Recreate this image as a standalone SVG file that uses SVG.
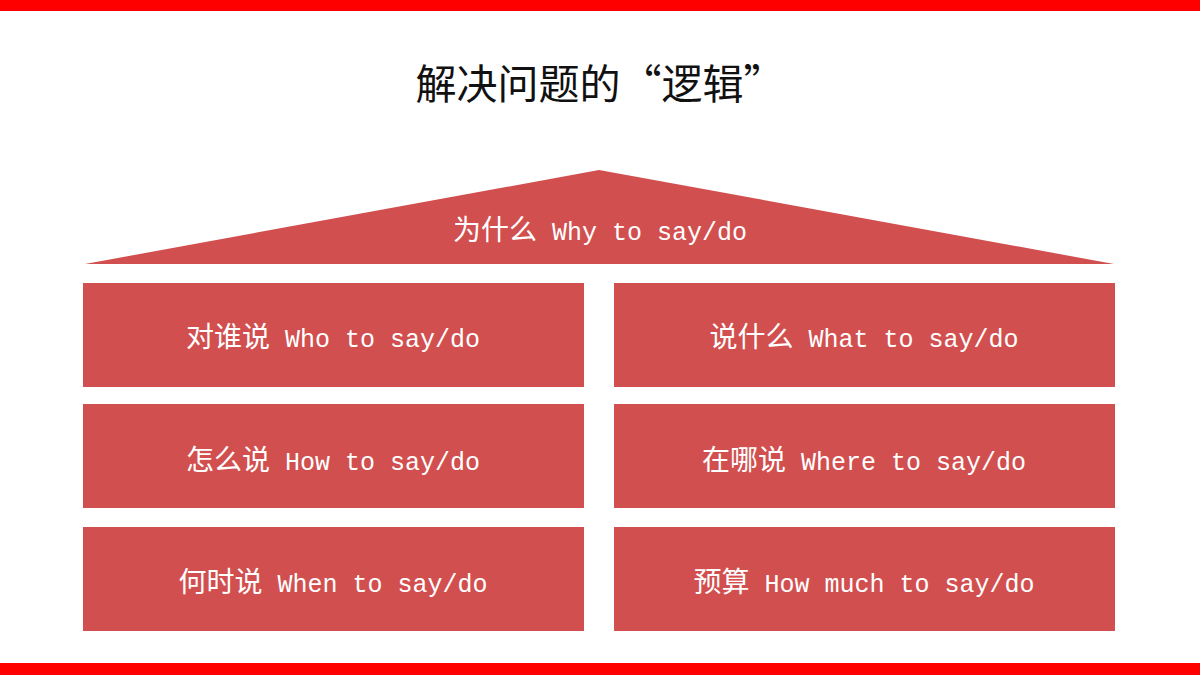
<svg xmlns="http://www.w3.org/2000/svg" width="1200" height="675" viewBox="0 0 1200 675">
<style>
.bar{fill:#FF0000}
.blk{fill:#D24F4F}
.lbl{font-family:"Liberation Mono","Noto Sans CJK SC",monospace;font-size:25px;fill:#FFFFFF;text-anchor:middle}
.cjk{font-family:"Noto Sans CJK SC",sans-serif;font-size:28px}
.ttl{font-family:"Noto Sans CJK SC",sans-serif;font-size:41px;fill:#111111;text-anchor:middle}
</style>
<rect width="1200" height="675" fill="#FFFFFF"/>
<rect class="bar" x="0" y="0" width="1200" height="11"/>
<rect class="bar" x="0" y="663" width="1200" height="12"/>
<text class="ttl" x="600" y="99">解决问题的“逻辑”</text>
<g id="roof">
<polygon class="blk" points="599,170 1114,264 85,264"/>
<text class="lbl" x="600" y="240"><tspan class="cjk">为什么</tspan> Why to say/do</text>
</g>
<g id="who">
<rect class="blk" x="83" y="283" width="501" height="104"/>
<text class="lbl" x="333" y="347"><tspan class="cjk">对谁说</tspan> Who to say/do</text>
</g>
<g id="what">
<rect class="blk" x="614" y="283" width="501" height="104"/>
<text class="lbl" x="864" y="347"><tspan class="cjk">说什么</tspan> What to say/do</text>
</g>
<g id="how">
<rect class="blk" x="83" y="404" width="501" height="104"/>
<text class="lbl" x="333" y="470"><tspan class="cjk">怎么说</tspan> How to say/do</text>
</g>
<g id="where">
<rect class="blk" x="614" y="404" width="501" height="104"/>
<text class="lbl" x="864" y="470"><tspan class="cjk">在哪说</tspan> Where to say/do</text>
</g>
<g id="when">
<rect class="blk" x="83" y="527" width="501" height="104"/>
<text class="lbl" x="333" y="592"><tspan class="cjk">何时说</tspan> When to say/do</text>
</g>
<g id="budget">
<rect class="blk" x="614" y="527" width="501" height="104"/>
<text class="lbl" x="864" y="592"><tspan class="cjk">预算</tspan> How much to say/do</text>
</g>
<g id="connectors"/>
</svg>
